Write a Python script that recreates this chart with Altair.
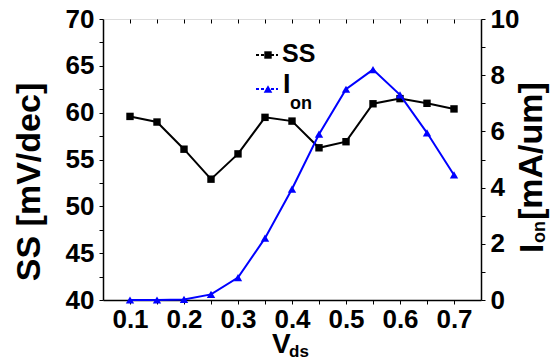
import altair as alt
import pandas as pd

vds = [0.1, 0.15, 0.2, 0.25, 0.3, 0.35, 0.4, 0.45, 0.5, 0.55, 0.6, 0.65, 0.7]
ss = [59.6, 59.0, 56.1, 52.9, 55.6, 59.5, 59.1, 56.25, 56.9, 60.95, 61.5, 61.0, 60.4]
ion = [0.0, 0.0, 0.02, 0.2, 0.8, 2.2, 3.95, 5.9, 7.5, 8.2, 7.3, 5.95, 4.45]

x_ticks = [0.1, 0.15, 0.2, 0.25, 0.3, 0.35, 0.4, 0.45, 0.5, 0.55, 0.6, 0.65, 0.7]
ss_ticks = [40, 42.5, 45, 47.5, 50, 52.5, 55, 57.5, 60, 62.5, 65, 67.5, 70]
ion_ticks = [0, 1, 2, 3, 4, 5, 6, 7, 8, 9, 10]

df = pd.DataFrame({"vds": vds, "ss": ss, "ion": ion})

FONT = "Liberation Sans"
W, H = 378, 281

xscale = alt.Scale(domain=[0.05, 0.75], nice=False, zero=False)

x_bottom = alt.X(
    "vds:Q", scale=xscale, title=None,
    axis=alt.Axis(values=x_ticks, orient="bottom", grid=False, tickSize=4,
                  tickColor="black", tickWidth=1, domainColor="black", domainWidth=1.5,
                  labelFont=FONT, labelFontSize=26, labelFontWeight="bold", labelColor="black",
                  labelPadding=2, format=".1f",
                  labelExpr="round(datum.value*100) % 10 == 0 ? datum.label : ''"),
)
x_top = alt.X(
    "vds:Q", scale=xscale, title=None,
    axis=alt.Axis(values=x_ticks, orient="top", grid=False, tickSize=4, offset=-4,
                  tickColor="black", tickWidth=1, domain=False, labels=False),
)

y_ss = alt.Y(
    "ss:Q", scale=alt.Scale(domain=[40, 70], nice=False, zero=False), title=None,
    axis=alt.Axis(values=ss_ticks, orient="left", grid=False, tickSize=4,
                  tickColor="black", domainColor="black", domainWidth=1.5,
                  labelFont=FONT, labelFontSize=26, labelFontWeight="bold", labelColor="black",
                  labelPadding=5,
                  labelExpr="datum.value % 5 == 0 ? datum.label : ''"),
)
y_ion = alt.Y(
    "ion:Q", scale=alt.Scale(domain=[0, 10], nice=False, zero=False), title=None,
    axis=alt.Axis(values=ion_ticks, orient="right", grid=False, tickSize=4,
                  tickColor="black", domainColor="black", domainWidth=1.5,
                  labelFont=FONT, labelFontSize=26, labelFontWeight="bold", labelColor="black",
                  labelPadding=5,
                  labelExpr="datum.value % 2 == 0 ? datum.label : ''"),
)

base = alt.Chart(df)
ss_layer = alt.layer(
    base.mark_line(color="black", strokeWidth=2).encode(x=x_bottom, y=y_ss),
    base.mark_point(shape="square", filled=True, color="black", size=55, opacity=1).encode(x=x_bottom, y=y_ss),
)
ion_layer = alt.layer(
    base.mark_line(color="#0000ff", strokeWidth=2).encode(x=x_top, y=y_ion),
    base.mark_point(shape="triangle-up", filled=True, color="#0000ff", size=70, opacity=1).encode(x=x_top, y=y_ion),
)

one = alt.Chart(pd.DataFrame({"a": [0]}))


def txt(text, x, y, size, angle=0, align="left", baseline="alphabetic"):
    kw = dict(text=text, font=FONT, fontSize=size, fontWeight="bold", color="black",
              align=align, baseline=baseline)
    if angle:
        kw["angle"] = angle
    return one.mark_text(**kw).encode(x=alt.value(x), y=alt.value(y))


# legend
leg_ss_line = one.mark_rule(color="black", strokeWidth=2, strokeDash=[3, 2]).encode(
    x=alt.value(153), x2=alt.value(175), y=alt.value(36))
leg_ss_pt = one.mark_point(shape="square", filled=True, color="black", size=55, opacity=1).encode(
    x=alt.value(165), y=alt.value(36))
leg_ion_line = one.mark_rule(color="#0000ff", strokeWidth=2, strokeDash=[3, 2]).encode(
    x=alt.value(153), x2=alt.value(175), y=alt.value(70))
leg_ion_pt = one.mark_point(shape="triangle-up", filled=True, color="#0000ff", size=75, opacity=1).encode(
    x=alt.value(165), y=alt.value(70))

annotations = [
    leg_ss_line, leg_ss_pt, leg_ion_line, leg_ion_pt,
    txt("SS", 179, 43, 25),
    txt("I", 180, 74, 27),
    txt("on", 187, 90, 18),
    # left title
    txt("SS [mV/dec]", -63, 163, 34, angle=270, align="center"),
    # right title
    txt("I", 440, 234, 33, angle=270, align="left"),
    txt("on", 442, 224, 18, angle=270, align="left"),
    txt("[mA/um]", 439, 201, 34, angle=270, align="left"),
    # bottom title
    txt("V", 169, 334, 28),
    txt("ds", 186, 338, 17),
]

chart = alt.layer(ss_layer, ion_layer, *annotations).resolve_scale(
    y="independent").resolve_axis(x="independent").properties(
    width=W, height=H,
    autosize=alt.AutoSizeParams(type="none"),
    padding={"left": 103, "top": 19, "right": 73, "bottom": 61},
).configure_view(stroke="black", strokeWidth=1.5).configure(background="white")

chart.save("out.html", embed_options={"renderer": "svg", "actions": False})
